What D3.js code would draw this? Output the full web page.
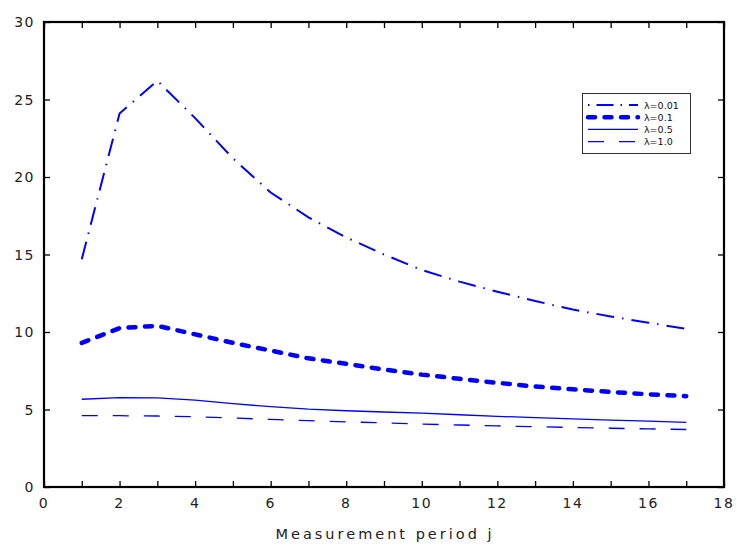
<!DOCTYPE html>
<html>
<head>
<meta charset="utf-8">
<script src="https://cdn.jsdelivr.net/npm/d3@7"></script>
<style>
  html, body { margin: 0; padding: 0; background: #fff; }
  svg { display: block; }
  text { font-family: "DejaVu Sans", sans-serif; }
</style>
</head>
<body>
<svg id="chart" width="737" height="547"></svg>
<script>
// ---- data ----
const periods = [1,2,3,4,5,6,7,8,9,10,11,12,13,14,15,16,17];
const lambda001 = [14.7,24.1,26.2,23.8,21.2,19.0,17.4,16.1,15.0,14.0,13.25,12.6,12.0,11.45,11.0,10.6,10.2];
const lambda01  = [9.3,10.25,10.4,9.85,9.3,8.8,8.3,7.95,7.58,7.25,6.98,6.72,6.48,6.3,6.13,5.98,5.86];
const lambda05  = [5.66,5.76,5.75,5.6,5.38,5.18,5.02,4.92,4.84,4.76,4.66,4.56,4.47,4.4,4.32,4.25,4.17];
const lambda10  = [4.6,4.6,4.58,4.53,4.45,4.36,4.28,4.2,4.14,4.06,4.0,3.94,3.89,3.84,3.79,3.75,3.71];
const seriesNames = ["\u03bb=0.01","\u03bb=0.1","\u03bb=0.5","\u03bb=1.0"];
const xTickLabels = [0,2,4,6,8,10,12,14,16,18];
const yTickLabels = [0,5,10,15,20,25,30];
const xTitle = "Measurement period j";

// ---- layout ----
const svg = d3.select("#chart");
const L = 44, R = 724, T = 22, B = 487;
const x = d3.scaleLinear().domain([0,18]).range([L,R]);
const y = d3.scaleLinear().domain([0,30]).range([B,T]);

const styles = [
  {w:2,   dash:"18,8,1.5,8", cap:"butt"},
  {w:4.5, dash:"7,9.5",      cap:"round"},
  {w:1.3, dash:null,         cap:"butt"},
  {w:1.3, dash:"16,15",      cap:"butt"}
];
const allSeries = [lambda001, lambda01, lambda05, lambda10];

const line = d3.line().x((d,i)=>x(periods[i])).y(d=>y(d));

const gLines = svg.append("g");
allSeries.forEach((s,k)=>{
  gLines.append("path")
    .datum(s)
    .attr("d", line)
    .attr("fill","none")
    .attr("stroke","#0000ff")
    .attr("stroke-width", styles[k].w)
    .attr("stroke-linecap", styles[k].cap)
    .attr("stroke-linejoin","round")
    .attr("stroke-dasharray", styles[k].dash);
});

// ---- axes (box with inward ticks) ----
const tickLen = 6;
const xMinor = d3.range(0,19,1);
const gBottom = svg.append("g").attr("transform",`translate(0,${B})`)
  .call(d3.axisBottom(x).tickValues(xMinor).tickSize(-tickLen).tickFormat(""));
const gTop = svg.append("g").attr("transform",`translate(0,${T})`)
  .call(d3.axisTop(x).tickValues(xMinor).tickSize(-tickLen).tickFormat(""));
const gLeft = svg.append("g").attr("transform",`translate(${L},0)`)
  .call(d3.axisLeft(y).tickValues(yTickLabels).tickSize(-tickLen).tickFormat(""));
const gRight = svg.append("g").attr("transform",`translate(${R},0)`)
  .call(d3.axisRight(y).tickValues(yTickLabels).tickSize(-tickLen).tickFormat(""));
[gBottom,gTop,gLeft,gRight].forEach(g=>{
  g.select(".domain").remove();
  g.selectAll(".tick line").attr("stroke","#000").attr("stroke-width",1.3);
});
svg.append("rect").attr("x",L).attr("y",T).attr("width",R-L).attr("height",B-T)
  .attr("fill","none").attr("stroke","#000").attr("stroke-width",2.2);

// tick labels
svg.append("g").selectAll("text").data(xTickLabels).join("text")
  .attr("x",d=>x(d)).attr("y",B+21)
  .attr("text-anchor","middle")
  .attr("font-size",14).attr("letter-spacing","1.5")
  .attr("fill","#222")
  .text(d=>d);
svg.append("g").selectAll("text").data(yTickLabels).join("text")
  .attr("x",L-9).attr("y",d=>y(d)+5)
  .attr("text-anchor","end")
  .attr("font-size",14).attr("letter-spacing","1.5")
  .attr("fill","#222")
  .text(d=>d);

// axis title
svg.append("text")
  .attr("x",385).attr("y",539)
  .attr("text-anchor","middle")
  .attr("font-size",14.5)
  .attr("letter-spacing","3")
  .attr("fill","#222")
  .text(xTitle);

// ---- legend ----
const lg = svg.append("g");
lg.append("rect").attr("x",582.5).attr("y",93.5).attr("width",108).attr("height",60)
  .attr("fill","#fff").attr("stroke","#333").attr("stroke-width",1);
seriesNames.forEach((name,k)=>{
  const yy = 105 + k*12.2;
  lg.append("line").attr("x1",588).attr("x2",638).attr("y1",yy).attr("y2",yy)
    .attr("stroke","#0000ff")
    .attr("stroke-width", styles[k].w)
    .attr("stroke-linecap", styles[k].cap)
    .attr("stroke-dasharray", k===0 ? "1.5,7,17,7" : styles[k].dash);
  lg.append("text").attr("x",644).attr("y",yy+3.5)
    .attr("font-size",9.5).attr("fill","#111").text(name);
});
</script>
</body>
</html>
